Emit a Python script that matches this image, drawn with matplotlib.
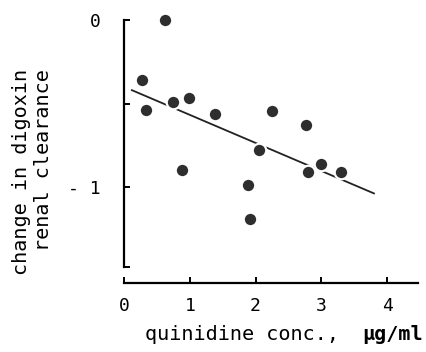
import matplotlib.pyplot as plt
import numpy as np

# quinidine concentration (ug/ml) vs change in digoxin renal clearance
quinidine = [0.27, 0.33, 0.63, 0.75, 0.99, 0.88, 1.39, 2.05, 2.25,
             2.77, 3.00, 2.79, 3.30, 1.89, 1.92]
clearance_change = [-0.36, -0.54, 0.0, -0.49, -0.47, -0.90, -0.56, -0.78, -0.545,
                    -0.63, -0.86, -0.91, -0.91, -0.99, -1.19]

# fitted regression line
fit_x = [0.12, 3.8]
fit_slope = -0.168
fit_intercept = -0.40

mono = 'DejaVu Sans Mono'

fig = plt.figure(figsize=(4.26, 3.52), dpi=100)
ax = fig.add_axes([124 / 426, 69 / 352, (418 - 124) / 426, (340 - 69) / 352])

fx = np.array(fit_x)
ax.plot(fx, fit_intercept + fit_slope * fx, color='#222222', lw=1.3, zorder=2)
ax.scatter(quinidine, clearance_change, s=95, color='#2e2e2e',
           edgecolors='white', linewidths=1.6, zorder=3, clip_on=False)

ax.set_xlim(0, 4.47)
ax.set_ylim(-1.575, 0.048)

for side in ['top', 'right']:
    ax.spines[side].set_visible(False)
ax.spines['left'].set_bounds(-1.48, 0)
ax.spines['bottom'].set_bounds(0, 4.47)
ax.spines['left'].set_linewidth(1.6)
ax.spines['bottom'].set_linewidth(1.6)

ax.set_yticks([0, -0.5, -1, -1.48])
ax.set_yticklabels(['0', '', '- 1', ''])
ax.set_xticks([0, 1, 2, 3, 4])
ax.set_xticklabels(['0', '1', '2', '3', '4'])
ax.tick_params(direction='in', length=4.5, width=1.4, labelsize=13)
ax.tick_params(axis='y', pad=17)
ax.tick_params(axis='x', pad=10)
for lab in ax.get_xticklabels() + ax.get_yticklabels():
    lab.set_family(mono)

fig.text(22 / 426, 1 - 172 / 352, 'change in digoxin', rotation=90, ha='center', va='center',
         family=mono, fontsize=14.5)
fig.text(44 / 426, 1 - 160 / 352, 'renal clearance', rotation=90, ha='center', va='center',
         family=mono, fontsize=14.5)
fig.text(145 / 426, 1 - 335 / 352, 'quinidine conc.,', ha='left', va='center',
         family=mono, fontsize=14.5)
fig.text(362 / 426, 1 - 335 / 352, '\u03bcg/ml', ha='left', va='center',
         family=mono, fontsize=14.5, fontweight='bold')

fig.savefig('out.png', dpi=100)
